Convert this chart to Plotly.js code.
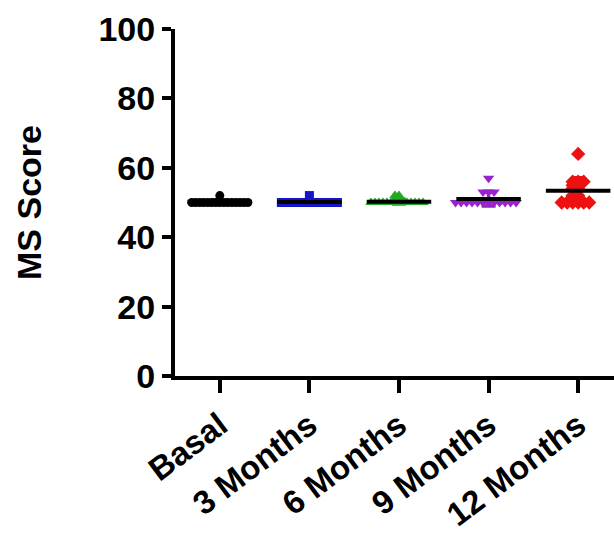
<!DOCTYPE html>
<html>
<head>
<meta charset="utf-8">
<script src="https://cdn.plot.ly/plotly-3.0.1.min.js"></script>
<style>body{margin:0;background:#fff;} #chart{width:614px;height:534px;}</style>
</head>
<body>
<div id="chart"></div>
<script>
// ---- data ----
const categories = ["Basal", "3 Months", "6 Months", "9 Months", "12 Months"];
const basal    = [52, 50, 50, 50, 50, 50, 50, 50, 50, 50, 50, 50, 50, 50, 50, 50];
const months3  = [52, 50, 50, 50, 50, 50, 50, 50, 50, 50, 50, 50, 50, 50, 50, 50];
const months6  = [52, 52, 50, 50, 50, 50, 50, 50, 50, 50, 50, 50, 50, 50, 50, 50];
const months9  = [57, 53, 53, 53, 50, 50, 50, 50, 50, 50, 50, 50, 50, 50, 50, 50];
const months12 = [64, 56, 56, 56, 55, 55, 54, 54, 52, 52, 50, 50, 50, 50, 50, 50];
const yTicks = [0, 20, 40, 60, 80, 100];

const groups = [basal, months3, months6, months9, months12];
const colors = ["#000000", "#1414C8", "#22AA22", "#9A22CC", "#EE1111"];
const symbols = ["circle", "square", "triangle-up", "triangle-down", "diamond"];
const sizes = [9, 9, 10, 10, 11];
const spacing = [3.9, 3.9, 3.9, 5.5, 5.5];

// pixel scales used only for the swarm spreading of overlapping points
const pxPerX = 89.5, pxPerY = 3.47;

function swarm(vals, dmin) {
  const placed = [];
  const order = vals.map((v, i) => i).sort((a, b) => vals[b] - vals[a]);
  const offs = new Array(vals.length).fill(0);
  order.forEach(i => {
    const y = vals[i] * pxPerY;
    for (let k = 0; k < 400; k++) {
      const cand = (k % 2 === 0 ? 1 : -1) * Math.ceil(k / 2) * 0.5;
      const ok = placed.every(p => Math.hypot(p.x - cand, (p.y - y) * 1.6) >= dmin || Math.abs(p.x - cand) >= dmin);
      if (ok) { offs[i] = cand; placed.push({x: cand, y: y}); break; }
    }
  });
  return offs.map(o => o / pxPerX);
}

const traces = [];
groups.forEach((vals, g) => {
  const n = vals.length;
  const mean = vals.reduce((a, b) => a + b, 0) / n;
  const sd = Math.sqrt(vals.reduce((a, b) => a + (b - mean) ** 2, 0) / (n - 1));
  const offs = swarm(vals, spacing[g]);
  traces.push({
    type: "scatter", mode: "markers",
    x: vals.map((v, i) => g + offs[i]), y: vals,
    marker: {symbol: symbols[g], size: sizes[g], color: colors[g], line: {width: 0}},
    hoverinfo: "y", showlegend: false
  });
  traces.push({
    type: "scatter", mode: "markers",
    x: [g], y: [mean],
    marker: {size: 1, color: "rgba(0,0,0,0)"},
    error_y: {type: "data", array: [sd], visible: true, color: colors[g], thickness: 3.5, width: 7},
    hoverinfo: "skip", showlegend: false
  });
  traces.push({
    type: "scatter", mode: "lines",
    x: [g - 0.36, g + 0.36], y: [mean, mean],
    line: {color: "#000000", width: 4},
    hoverinfo: "skip", showlegend: false
  });
});

const fontFam = "Liberation Sans, Arial, sans-serif";
const layout = {
  width: 614, height: 534,
  margin: {l: 175, r: 0, t: 29, b: 158, pad: 0},
  paper_bgcolor: "#ffffff", plot_bgcolor: "#ffffff",
  showlegend: false,
  xaxis: {
    range: [-0.5, 4.4],
    tickmode: "array", tickvals: categories.map((c, i) => i), ticktext: categories,
    tickangle: -37,
    tickfont: {family: fontFam, size: 33, color: "#000", weight: "bold"},
    showline: true, linecolor: "#000", linewidth: 4,
    ticks: "outside", ticklen: 13, tickwidth: 4, tickcolor: "#000",
    showgrid: false, zeroline: false, fixedrange: true
  },
  yaxis: {
    range: [0, 100],
    tickmode: "array", tickvals: yTicks, ticktext: yTicks.map(String),
    tickfont: {family: fontFam, size: 34, color: "#000", weight: "bold"},
    showline: true, linecolor: "#000", linewidth: 4,
    ticks: "outside", ticklen: 9, tickwidth: 4, tickcolor: "#000",
    showgrid: false, zeroline: false, fixedrange: true,
    title: {text: "MS Score", font: {family: fontFam, size: 34, color: "#000", weight: "bold"}, standoff: 48}
  }
};

Plotly.newPlot("chart", traces, layout, {displayModeBar: false, staticPlot: true});
</script>
</body>
</html>
